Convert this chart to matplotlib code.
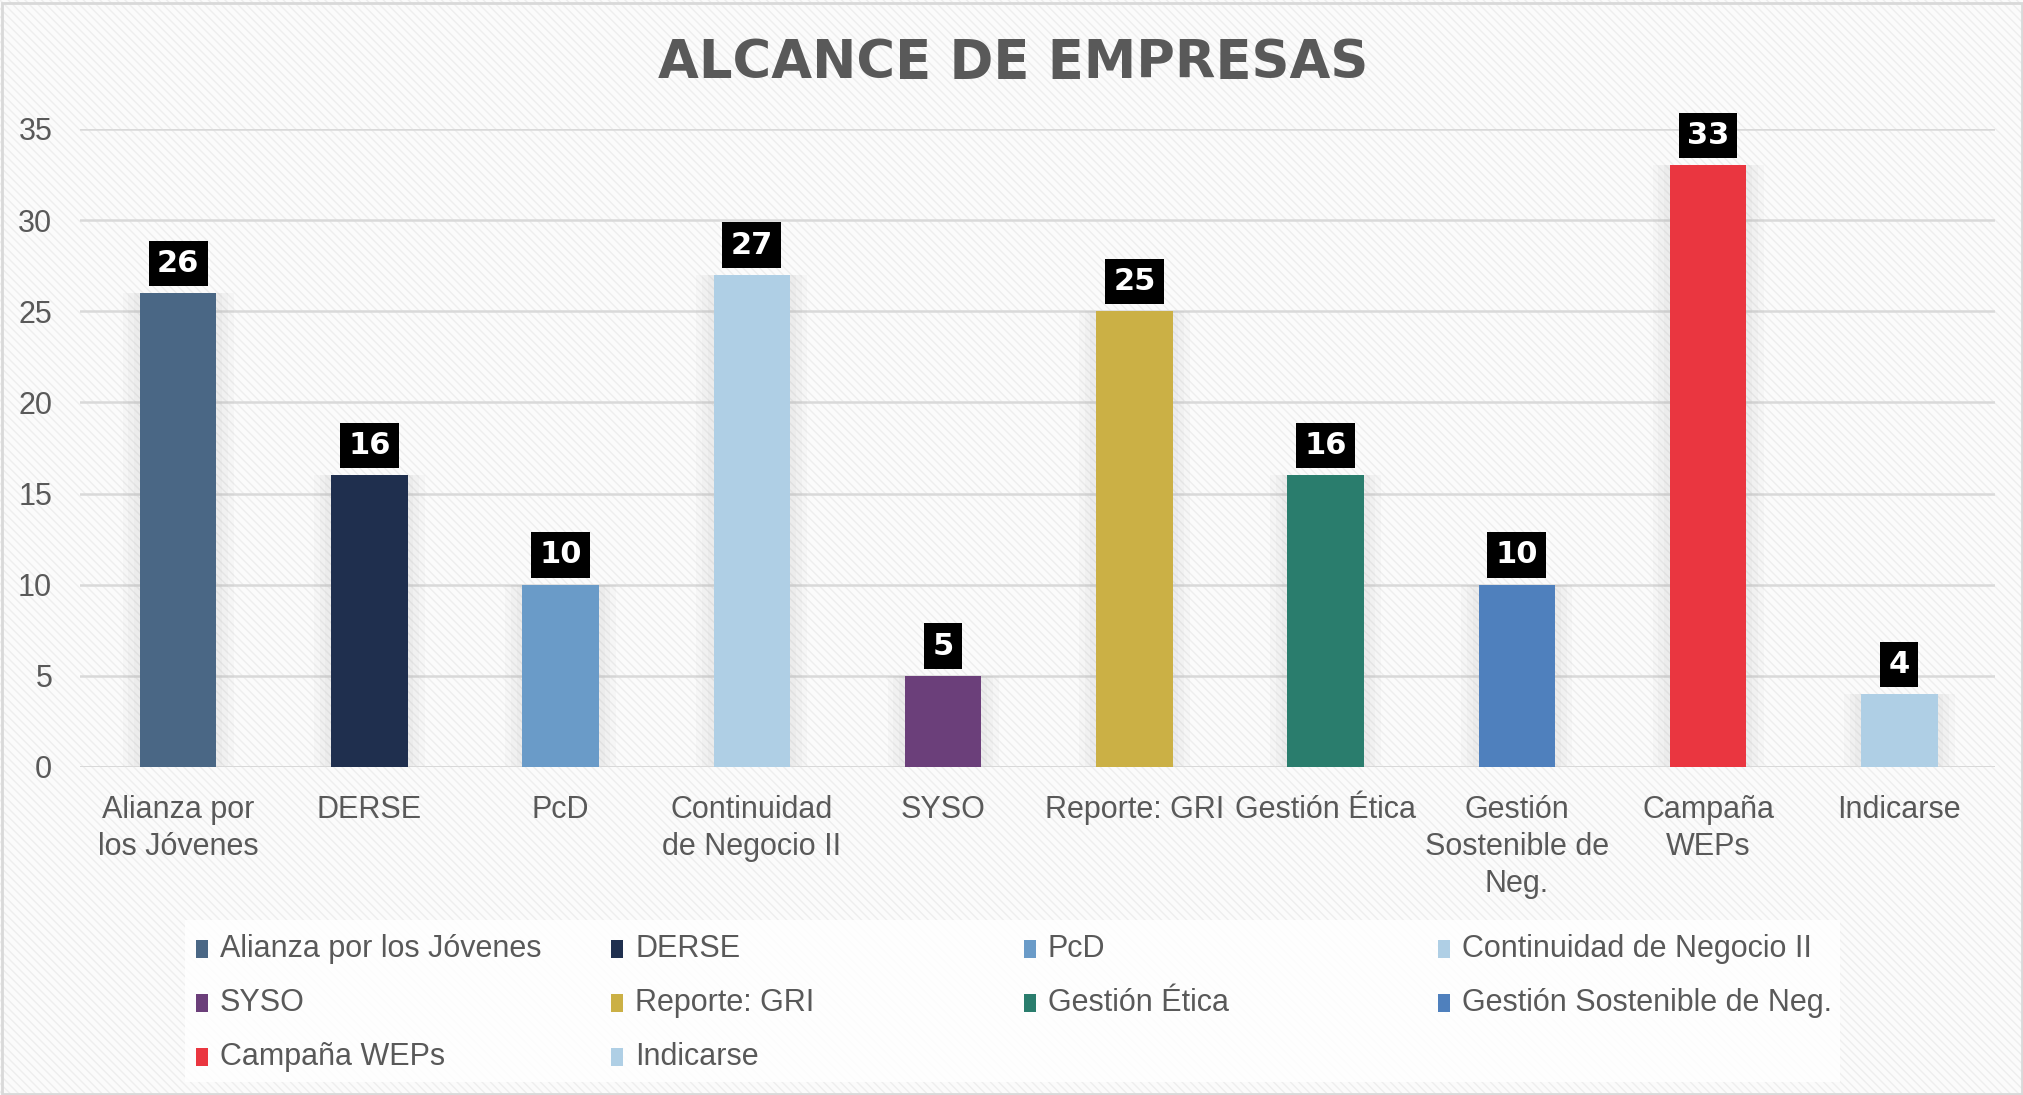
import numpy as np
import matplotlib
matplotlib.use("Agg")
import matplotlib.pyplot as plt
from matplotlib import font_manager
from matplotlib.patches import Rectangle

# chart data
categories = ["Alianza por los Jóvenes", "DERSE", "PcD", "Continuidad de Negocio II",
              "SYSO", "Reporte: GRI", "Gestión Ética", "Gestión Sostenible de Neg.",
              "Campaña WEPs", "Indicarse"]
tick_labels = ["Alianza por\nlos Jóvenes", "DERSE", "PcD", "Continuidad\nde Negocio II",
               "SYSO", "Reporte: GRI", "Gestión Ética", "Gestión\nSostenible de\nNeg.",
               "Campaña\nWEPs", "Indicarse"]
values = [26, 16, 10, 27, 5, 25, 16, 10, 33, 4]
colors = ["#4a6785", "#1f2f4e", "#6a9bc8", "#afcfe5", "#6b3f7a",
          "#cbb045", "#2a7d6d", "#4f80bd", "#ea3640", "#afcfe5"]
yticks = [0, 5, 10, 15, 20, 25, 30, 35]

# pick a narrow font if there is one
names = {f.name for f in font_manager.fontManager.ttflist}
narrow = "Liberation Sans Narrow" if "Liberation Sans Narrow" in names else "Liberation Sans"
plt.rcParams['font.family'] = [narrow, 'DejaVu Sans']
plt.rcParams['hatch.linewidth'] = 1.0

W, H = 2024, 1095
fig = plt.figure(figsize=(W / 100, H / 100), dpi=100)
fig.patch.set_facecolor("white")

# hatched background and border
bg = Rectangle((0, 0), 1, 1, transform=fig.transFigure, facecolor="#fbfbfb",
               edgecolor="#eeeeee", hatch="\\\\\\\\", linewidth=0, zorder=-10)
fig.patches.append(bg)
border = Rectangle((0.001, 0.001), 0.998, 0.996, transform=fig.transFigure,
                   facecolor="none", edgecolor="#d9d9d9", linewidth=2, zorder=-9)
fig.patches.append(border)

ax = fig.add_axes([80 / W, 1 - 767 / H, (1995 - 80) / W, (767 - 129) / H])
ax.set_facecolor("none")

x = np.arange(len(values))
# soft glow behind bars
for w in [0.58, 0.52, 0.46]:
    ax.bar(x, values, width=w, color="#9a9a9a", alpha=0.05, zorder=1, linewidth=0)
bars = ax.bar(x, values, width=0.40, color=colors, zorder=3, linewidth=0)

for xi, v in zip(x, values):
    ax.annotate(str(v), (xi, v), xytext=(0, 11), textcoords="offset points",
                ha="center", va="bottom", color="white", fontsize=22,
                fontweight="bold", family="DejaVu Sans", zorder=5,
                bbox=dict(boxstyle="square,pad=0.27", facecolor="black", edgecolor="none"),
                annotation_clip=False)

ax.set_xlim(-0.513, 9.5)
ax.set_ylim(0, 35)
ax.set_yticks(yticks)
ax.set_yticklabels([str(t) for t in yticks], fontsize=22, color="#595959")
ax.set_xticks(x)
ax.set_xticklabels(tick_labels, fontsize=22, color="#595959", linespacing=1.32)
ax.tick_params(axis="y", length=0, pad=20)
ax.tick_params(axis="x", length=0, pad=20)
ax.grid(axis="y", color="#d9d9d9", linewidth=1.8, zorder=0)
ax.set_axisbelow(True)
for s in ax.spines.values():
    s.set_visible(False)
ax.axhline(0, color="#d9d9d9", linewidth=2, zorder=2)

fig.text(1013 / W, 1 - 63 / H, "ALCANCE DE EMPRESAS", ha="center", va="center",
         fontsize=38, fontweight="bold", color="#595959", family="DejaVu Sans")

# legend drawn by hand so the columns sit evenly
leg_box = Rectangle((185 / W, 1 - 1082 / H), (1840 - 185) / W, (1082 - 920) / H,
                    transform=fig.transFigure, facecolor="white", alpha=0.85,
                    edgecolor="none", zorder=-5)
fig.patches.append(leg_box)
col_x = [196, 611, 1024, 1438]
row_y = [949, 1003, 1057]
for i, (name, c) in enumerate(zip(categories, colors)):
    cx = col_x[i % 4]
    cy = row_y[i // 4]
    fig.patches.append(Rectangle((cx / W, 1 - (cy + 9) / H), 12 / W, 18 / H,
                                 transform=fig.transFigure, facecolor=c,
                                 edgecolor="none"))
    fig.text((cx + 24) / W, 1 - cy / H, name, ha="left", va="center",
             fontsize=22, color="#595959")

fig.savefig("out.png", dpi=100)
